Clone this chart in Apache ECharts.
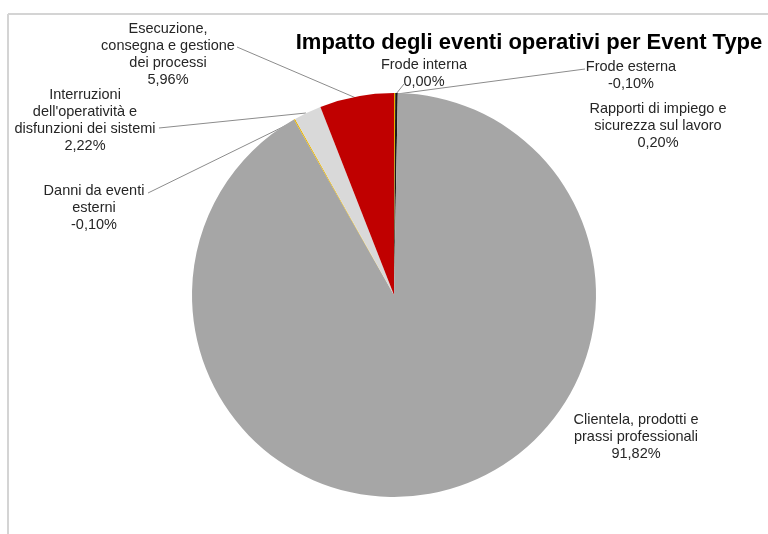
<!DOCTYPE html>
<html>
<head>
<meta charset="utf-8">
<script src="https://cdn.jsdelivr.net/npm/echarts@6/dist/echarts.min.js"></script>
<style>html,body{margin:0;padding:0;background:#fff}#c{width:768px;height:534px}</style>
</head>
<body>
<div id="c"></div>
<script>
// Data
const categories = [
  'Frode interna',
  'Frode esterna',
  'Rapporti di impiego e\nsicurezza sul lavoro',
  'Clientela, prodotti e\nprassi professionali',
  'Danni da eventi\nesterni',
  'Interruzioni\ndell\'operatività e\ndisfunzioni dei sistemi',
  'Esecuzione,\nconsegna e gestione\ndei processi'
];
const values = [0.00, -0.10, 0.20, 91.82, -0.10, 2.22, 5.96];
const colors = ['#7f7f7f', '#e8b000', '#1a1a1a', '#a6a6a6', '#e8b400', '#d9d9d9', '#c00000'];

// Label layout (positions of texts and leader lines)
const labelPlace = [
  {x: 424, y: 73, line: [[404, 84], [396, 94]]},
  {x: 631, y: 75, line: [[585, 69], [397, 94]]},
  {x: 658, y: 126, line: null},
  {x: 636, y: 437, line: null},
  {x: 94, y: 207.5, line: [[148, 193], [297, 120]]},
  {x: 85, y: 120.5, line: [[159, 128], [306, 113]]},
  {x: 168, y: 54, line: [[237, 47], [356, 98]]}
];

const fmt = v => (v < 0 ? '-' : '') + Math.abs(v).toFixed(2).replace('.', ',') + '%';

const chart = echarts.init(document.getElementById('c'), null, {renderer: 'canvas'});
chart.setOption({
  animation: false,
  title: {
    text: 'Impatto degli eventi operativi per Event Type',
    left: 524, top: 27, textAlign: 'center',
    textStyle: {fontFamily: 'Liberation Sans', fontSize: 22, fontWeight: 'bold', color: '#000'}
  },
  graphic: [
    {type: 'line', shape: {x1: 8, y1: 14, x2: 768, y2: 14}, style: {stroke: '#d4d4d4', lineWidth: 2}},
    {type: 'line', shape: {x1: 8, y1: 14, x2: 8, y2: 534}, style: {stroke: '#d4d4d4', lineWidth: 2}}
  ],
  series: [{
    type: 'pie',
    center: [394, 295],
    radius: [0, 202],
    startAngle: 90,
    clockwise: true,
    avoidLabelOverlap: false,
    minAngle: 0,
    itemStyle: {borderWidth: 0},
    label: {
      show: true,
      fontFamily: 'Liberation Sans',
      fontSize: 14.5,
      lineHeight: 17,
      color: '#262626',
      align: 'center',
      formatter: p => categories[p.dataIndex] + '\n' + fmt(values[p.dataIndex])
    },
    labelLine: {show: true, lineStyle: {color: '#8c8c8c', width: 1}},
    labelLayout: p => {
      const L = labelPlace[p.dataIndex];
      const r = {x: L.x, y: L.y, align: 'center', verticalAlign: 'middle'};
      if (L.line) r.labelLinePoints = L.line;
      return r;
    },
    data: categories.map((n, i) => ({
      name: n,
      value: Math.abs(values[i]),
      itemStyle: {color: colors[i]},
      labelLine: {show: !!labelPlace[i].line}
    }))
  }]
});
</script>
</body>
</html>
